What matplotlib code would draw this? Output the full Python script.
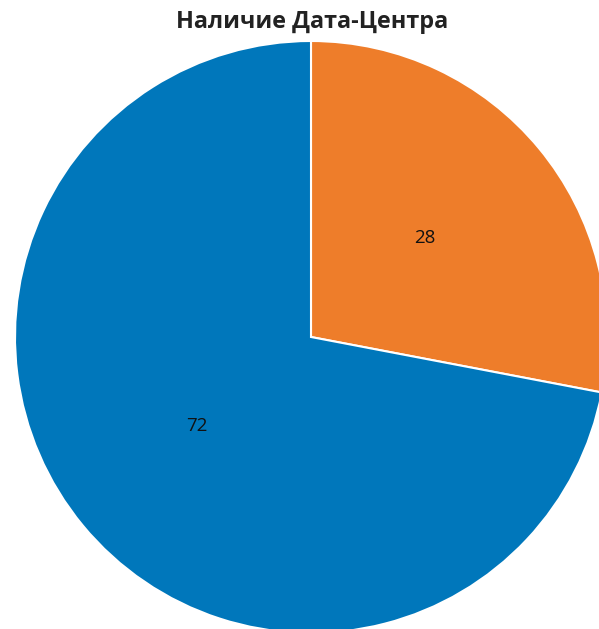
import matplotlib
matplotlib.use("Agg")
import matplotlib.pyplot as plt

plt.rcParams['font.family'] = ['Open Sans', 'DejaVu Sans']

labels = ["Нет", "Есть"]
values = [28, 72]
colors = ["#EE7D2A", "#0077BB"]
title = "Наличие Дата-Центра"

W, H = 599, 629
fig = plt.figure(figsize=(W / 100, H / 100), dpi=100)
ax = fig.add_axes([0, 0, 1, 1])

cx, cy, r = 311, 337, 296
wedges, texts = ax.pie(
    values,
    colors=colors,
    startangle=90,
    counterclock=False,
    labels=[str(v) for v in values],
    labeldistance=0.5,
    radius=1.0,
    wedgeprops=dict(edgecolor="white", linewidth=1.5),
    textprops=dict(fontsize=13.5, color="#111111"),
)
# nudge the value labels up a little so the digits sit centred
for t in texts:
    t.set_horizontalalignment("center")
    t.set_verticalalignment("center")
    x, y = t.get_position()
    t.set_position((x, y + 5 / r))

ax.set_aspect("auto")
ax.set_xlim(-cx / r, (W - cx) / r)
ax.set_ylim((cy - H) / r, cy / r)
ax.axis("off")

fig.text(312 / W, 1 - 22 / H, title, ha="center", va="center",
         fontsize=16.8, fontweight="bold", color="#222222")

fig.savefig("out.png", dpi=100)
